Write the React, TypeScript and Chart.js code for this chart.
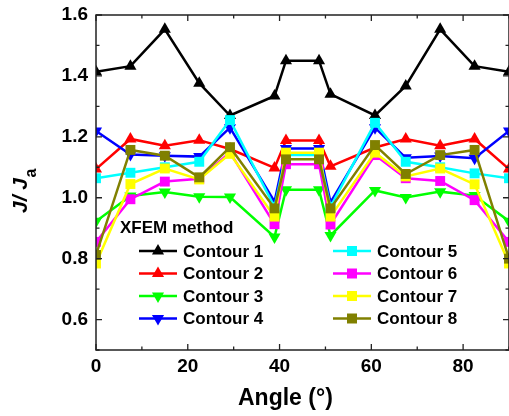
import React, { useEffect, useRef } from "react";
import { Chart, registerables } from "chart.js";

Chart.register(...registerables);

// ---- data ----
const angles = [0, 7.5, 15, 22.5, 29.2, 38.9, 41.4, 48.6, 51.1, 60.8, 67.5, 75, 82.5, 90];
const contour1 = [1.414, 1.432, 1.553, 1.376, 1.27, 1.334, 1.45, 1.45, 1.34, 1.27, 1.367, 1.553, 1.432, 1.414];
const contour2 = [1.094, 1.193, 1.171, 1.189, 1.16, 1.098, 1.188, 1.188, 1.103, 1.165, 1.193, 1.171, 1.193, 1.094];
const contour3 = [0.923, 1.006, 1.019, 1.003, 1.002, 0.871, 1.026, 1.026, 0.876, 1.024, 1.001, 1.02, 1.007, 0.923];
const contour4 = [1.219, 1.142, 1.138, 1.135, 1.23, 0.987, 1.162, 1.162, 0.985, 1.23, 1.131, 1.137, 1.13, 1.219];
const contour5 = [1.064, 1.082, 1.1, 1.118, 1.255, 0.97, 1.14, 1.14, 0.97, 1.246, 1.118, 1.1, 1.08, 1.064];
const contour6 = [0.855, 0.995, 1.053, 1.062, 1.149, 0.913, 1.11, 1.11, 0.912, 1.14, 1.064, 1.055, 0.992, 0.855];
const contour7 = [0.784, 1.045, 1.096, 1.06, 1.144, 0.938, 1.148, 1.148, 0.938, 1.148, 1.07, 1.096, 1.044, 0.784];
const contour8 = [0.812, 1.157, 1.138, 1.067, 1.166, 0.965, 1.126, 1.126, 0.965, 1.173, 1.078, 1.14, 1.157, 0.8];

const seriesValues = [contour1, contour2, contour3, contour4, contour5, contour6, contour7, contour8];
const seriesNames = ["Contour 1", "Contour 2", "Contour 3", "Contour 4", "Contour 5", "Contour 6", "Contour 7", "Contour 8"];
const seriesColors = ["#000000", "#ff0000", "#00ff00", "#0000ff", "#00ffff", "#ff00ff", "#ffff00", "#808000"];
const seriesMarkers = ["up", "up", "down", "down", "square", "square", "square", "square"];

const xTickLabels = [0, 20, 40, 60, 80];
const yTickLabels = [0.6, 0.8, 1.0, 1.2, 1.4, 1.6];
const xMinorTicks = [0, 10, 20, 30, 40, 50, 60, 70, 80, 90];
const yMinorTicks = [0.5, 0.6, 0.7, 0.8, 0.9, 1.0, 1.1, 1.2, 1.3, 1.4, 1.5, 1.6];

const legendTitle = "XFEM method";
const xTitle = "Angle (°)";

const FONT = "Arial, 'Liberation Sans', sans-serif";
const CANVAS_W = 516;
const VIEW_W = 509;
const H = 416;

function drawMarker(ctx: CanvasRenderingContext2D, kind: string, x: number, y: number, color: string) {
  ctx.save();
  ctx.fillStyle = color;
  ctx.beginPath();
  const r = 7;
  if (kind === "up") {
    ctx.moveTo(x, y - r);
    ctx.lineTo(x + r * 0.866, y + r * 0.5);
    ctx.lineTo(x - r * 0.866, y + r * 0.5);
  } else if (kind === "down") {
    ctx.moveTo(x, y + r);
    ctx.lineTo(x + r * 0.866, y - r * 0.5);
    ctx.lineTo(x - r * 0.866, y - r * 0.5);
  } else {
    ctx.rect(x - 5, y - 5, 10, 10);
  }
  ctx.closePath();
  ctx.fill();
  ctx.restore();
}

const framePlugin = {
  id: "frameTicks",
  afterDatasetsDraw(chart: any) {
    const { ctx, chartArea, scales } = chart;
    const { left, right, top, bottom } = chartArea;
    const xs = scales.x;
    const ys = scales.y;
    ctx.save();
    ctx.strokeStyle = "#222";
    ctx.lineWidth = 1.5;
    ctx.strokeRect(left, top, right - left, bottom - top);
    ctx.lineWidth = 1.3;
    ctx.beginPath();
    xMinorTicks.forEach((v) => {
      const px = xs.getPixelForValue(v);
      const len = xTickLabels.includes(v) ? 6 : 3.5;
      ctx.moveTo(px, bottom);
      ctx.lineTo(px, bottom - len);
      ctx.moveTo(px, top);
      ctx.lineTo(px, top + len);
    });
    yMinorTicks.forEach((v) => {
      const py = ys.getPixelForValue(v);
      const len = yTickLabels.some((t) => Math.abs(t - v) < 1e-6) ? 6 : 3.5;
      ctx.moveTo(left, py);
      ctx.lineTo(left + len, py);
      ctx.moveTo(right, py);
      ctx.lineTo(right - len, py);
    });
    ctx.stroke();
    ctx.restore();
  },
  afterDraw(chart: any) {
    const { ctx, chartArea } = chart;
    const { left, top } = chartArea;
    ctx.save();
    ctx.fillStyle = "#000";
    ctx.textBaseline = "middle";
    ctx.textAlign = "left";
    // legend title
    ctx.font = `bold 17px ${FONT}`;
    ctx.fillText(legendTitle, left + 24, top + 213);
    // legend entries
    const cols = [left + 43, left + 237];
    const rows = [top + 236, top + 258.5, top + 281, top + 303.5];
    chart.data.datasets.forEach((ds: any, i: number) => {
      const cx = cols[Math.floor(i / 4)];
      const cy = rows[i % 4];
      ctx.strokeStyle = seriesColors[i];
      ctx.lineWidth = 2.5;
      ctx.beginPath();
      ctx.moveTo(cx, cy);
      ctx.lineTo(cx + 38, cy);
      ctx.stroke();
      drawMarker(ctx, seriesMarkers[i], cx + 19, cy, seriesColors[i]);
      ctx.fillStyle = "#000";
      ctx.font = `bold 17px ${FONT}`;
      ctx.fillText(ds.label, cx + 44, cy + 1);
    });
    // x axis title
    ctx.font = `bold 23px ${FONT}`;
    ctx.textBaseline = "alphabetic";
    ctx.fillText(xTitle, 238, 405);
    // y axis title
    ctx.save();
    ctx.translate(27, 213);
    ctx.rotate(-Math.PI / 2);
    ctx.font = `italic bold 21px ${FONT}`;
    ctx.textBaseline = "alphabetic";
    ctx.fillText("J/ J", 0, 0);
    const w = ctx.measureText("J/ J").width;
    ctx.font = `bold 16px ${FONT}`;
    ctx.fillText("a", w + 0.5, 9);
    ctx.restore();
    ctx.restore();
  },
};

export default function App() {
  const ref = useRef<HTMLCanvasElement | null>(null);
  useEffect(() => {
    if (!ref.current) return;
    const datasets = seriesValues.map((vals, i) => ({
      label: seriesNames[i],
      data: vals.map((v, j) => ({ x: angles[j], y: v })),
      borderColor: seriesColors[i],
      backgroundColor: seriesColors[i],
      pointBackgroundColor: seriesColors[i],
      pointBorderColor: seriesColors[i],
      pointBorderWidth: 0,
      borderWidth: 2.5,
      pointStyle: seriesMarkers[i] === "square" ? "rect" : "triangle",
      rotation: seriesMarkers[i] === "down" ? 180 : 0,
      pointRadius: 7,
      tension: 0,
      clip: 0,
      order: seriesValues.length - i,
    }));
    const chart = new Chart(ref.current, {
      type: "line",
      data: { datasets },
      plugins: [framePlugin],
      options: {
        animation: false,
        responsive: false,
        devicePixelRatio: 1,
        layout: { padding: { top: 15, left: 0, right: CANVAS_W - VIEW_W, bottom: 0 } },
        plugins: { legend: { display: false }, tooltip: { enabled: false } },
        scales: {
          x: {
            type: "linear",
            min: 0,
            max: 90,
            grid: { display: false, drawTicks: false },
            border: { display: false },
            afterFit: (s: any) => {
              s.height = 66;
              s.paddingLeft = 0;
              s.paddingRight = 0;
            },
            ticks: {
              stepSize: 10,
              autoSkip: false,
              maxRotation: 0,
              padding: 5,
              color: "#000",
              font: { family: FONT, size: 19, weight: "bold" },
              callback: (v: any) => (xTickLabels.includes(Number(v)) ? String(v) : ""),
            },
          },
          y: {
            type: "linear",
            min: 0.5,
            max: 1.6,
            grid: { display: false, drawTicks: false },
            border: { display: false },
            afterFit: (s: any) => {
              s.width = 96;
              s.paddingTop = 0;
              s.paddingBottom = 0;
            },
            ticks: {
              stepSize: 0.1,
              autoSkip: false,
              padding: 8,
              color: "#000",
              font: { family: FONT, size: 19, weight: "bold" },
              callback: (v: any) => {
                const t = yTickLabels.find((t) => Math.abs(t - Number(v)) < 1e-6);
                return t === undefined ? "" : t.toFixed(1);
              },
            },
          },
        },
      },
    } as any);
    return () => chart.destroy();
  }, []);
  return (
    <div style={{ position: "fixed", left: 0, top: 0, width: VIEW_W, height: H, overflow: "hidden", background: "#fff" }}>
      <canvas ref={ref} width={CANVAS_W} height={H} style={{ display: "block" }} />
    </div>
  );
}
